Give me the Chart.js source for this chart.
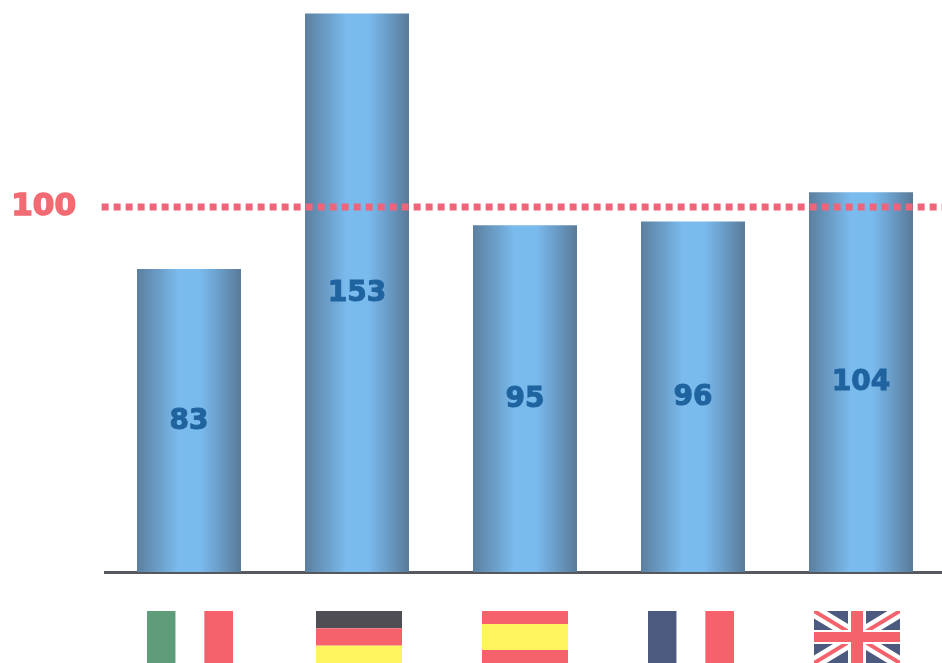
<!DOCTYPE html>
<html>
<head>
<meta charset="utf-8">
<title>Index by country</title>
<script src="https://cdn.jsdelivr.net/npm/chart.js@4/dist/chart.umd.min.js"></script>
<style>
  html, body { margin: 0; padding: 0; background: #fff; overflow: hidden; }
  canvas { display: block; }
</style>
</head>
<body>
<canvas id="chart" width="945" height="663"></canvas>
<script>
// values
const countries = ['Italia', 'Germania', 'Spagna', 'Francia', 'Regno Unito'];
const values = [83, 153, 95, 96, 104];
const refValue = 100;
const refTicks = [100];

// colours
const RED = '#f5626c';
const GREEN = '#5f9c7a';
const NAVY = '#4c5a80';
const BLACK = '#4e4e54';
const YELLOW = '#fdf45e';
const WHITE = '#ffffff';
const barStops = ['#5c7f9f', '#6a9cc6', '#7abbee', '#7abbee', '#6a9cc6', '#5a7a98'];

// flags are stripes, v = side by side, h = stacked, uk is drawn apart
const flagKinds = ['v', 'h', 'h', 'v', 'uk'];
const flagStripes = [
  [GREEN, WHITE, RED],
  [BLACK, RED, YELLOW],
  [RED, YELLOW, YELLOW, RED],
  [NAVY, WHITE, RED],
  []
];
const flagNudge = [1, 2, 0, -2, -4]; // flags are not quite centred under the bars

const FLAG_W = 86;
const FLAG_H = 52;
const FLAG_TOP = 611;

function drawUk(ctx, x, y) {
  ctx.save();
  ctx.beginPath();
  ctx.rect(x, y, FLAG_W, FLAG_H);
  ctx.clip();
  ctx.fillStyle = NAVY;
  ctx.fillRect(x, y, FLAG_W, FLAG_H);
  const cross = (color, w) => {
    ctx.strokeStyle = color;
    ctx.lineWidth = w;
    ctx.beginPath();
    ctx.moveTo(x, y);
    ctx.lineTo(x + FLAG_W, y + FLAG_H);
    ctx.moveTo(x + FLAG_W, y);
    ctx.lineTo(x, y + FLAG_H);
    ctx.stroke();
  };
  cross(WHITE, 13);
  cross(RED, 4);
  ctx.fillStyle = WHITE;
  ctx.fillRect(x + FLAG_W / 2 - 9, y, 18, FLAG_H);
  ctx.fillRect(x, y + FLAG_H / 2 - 7, FLAG_W, 14);
  ctx.fillStyle = RED;
  ctx.fillRect(x + FLAG_W / 2 - 6, y, 12, FLAG_H);
  ctx.fillRect(x, y + FLAG_H / 2 - 5, FLAG_W, 10);
  ctx.restore();
}

// flags sit under the axis, at each category's position
const flagPlugin = {
  id: 'flags',
  afterDraw(chart) {
    const { ctx, scales } = chart;
    countries.forEach((name, i) => {
      const x = scales.x.getPixelForValue(i) - FLAG_W / 2 + flagNudge[i];
      if (flagKinds[i] === 'uk') {
        drawUk(ctx, x, FLAG_TOP);
        return;
      }
      const stripes = flagStripes[i];
      stripes.forEach((color, s) => {
        ctx.fillStyle = color;
        if (flagKinds[i] === 'v') {
          ctx.fillRect(x + s * FLAG_W / stripes.length, FLAG_TOP, FLAG_W / stripes.length, FLAG_H);
        } else {
          ctx.fillRect(x, FLAG_TOP + s * FLAG_H / stripes.length, FLAG_W, FLAG_H / stripes.length);
        }
      });
    });
  }
};

// value in the middle of each bar
const barLabelPlugin = {
  id: 'barLabels',
  afterDatasetsDraw(chart) {
    const { ctx, scales } = chart;
    ctx.save();
    ctx.font = 'bold 28px "DejaVu Sans"';
    ctx.fillStyle = '#1f639f';
    ctx.strokeStyle = '#1f639f';
    ctx.lineWidth = 1;
    ctx.textAlign = 'center';
    ctx.textBaseline = 'middle';
    values.forEach((v, i) => {
      const y = (scales.y.getPixelForValue(v) + scales.y.getPixelForValue(0)) / 2;
      ctx.fillText(String(v), scales.x.getPixelForValue(i), y + 1);
      ctx.strokeText(String(v), scales.x.getPixelForValue(i), y + 1);
    });
    ctx.restore();
  }
};

new Chart(document.getElementById('chart').getContext('2d'), {
  type: 'bar',
  data: {
    labels: countries,
    datasets: [
      {
        label: 'Index',
        data: values,
        order: 2,
        grouped: false, // the line has its own x axis, grouping would push the bars aside
        barPercentage: 0.62,
        categoryPercentage: 1,
        maxBarThickness: 104,
        borderWidth: 0,
        backgroundColor(c) {
          const scale = c.chart.scales.x;
          const cx = scale && c.dataIndex !== undefined ? scale.getPixelForValue(c.dataIndex) : NaN;
          if (!Number.isFinite(cx)) return barStops[2];
          const g = c.chart.ctx.createLinearGradient(cx - 52, 0, cx + 52, 0);
          barStops.forEach((color, i) => g.addColorStop(i / (barStops.length - 1), color));
          return g;
        }
      },
      {
        type: 'line',
        label: '100',
        xAxisID: 'xRef',
        order: 1,
        clip: false,
        data: [{ x: -0.004, y: refValue }, { x: 1, y: refValue }],
        borderColor: '#f0647a',
        borderWidth: 7,
        borderDash: [7, 5],
        pointRadius: 0,
        tension: 0
      }
    ]
  },
  options: {
    responsive: false,
    animation: false,
    layout: { padding: { top: 0, right: 0, bottom: 83, left: 0 } },
    plugins: {
      legend: { display: false },
      tooltip: { enabled: false }
    },
    scales: {
      x: {
        grid: { display: false },
        ticks: { display: false },
        border: { color: '#55585c', width: 3 }
      },
      xRef: {
        type: 'linear',
        display: false,
        offset: false,
        min: 0,
        max: 1
      },
      y: {
        min: 0,
        max: 156.7,
        grid: { display: false },
        border: { display: false },
        afterBuildTicks(axis) {
          axis.ticks = refTicks.map((value) => ({ value }));
        },
        afterFit(axis) {
          axis.width = 105;
          axis.paddingTop = 0;
          axis.paddingBottom = 0;
        },
        ticks: {
          color: '#f26a72',
          padding: 21,
          autoSkip: false,
          textStrokeColor: '#f26a72',
          textStrokeWidth: 1.5,
          font: { family: '"DejaVu Sans"', weight: 'bold', size: 31 }
        }
      }
    }
  },
  plugins: [barLabelPlugin, flagPlugin]
});
</script>
</body>
</html>
